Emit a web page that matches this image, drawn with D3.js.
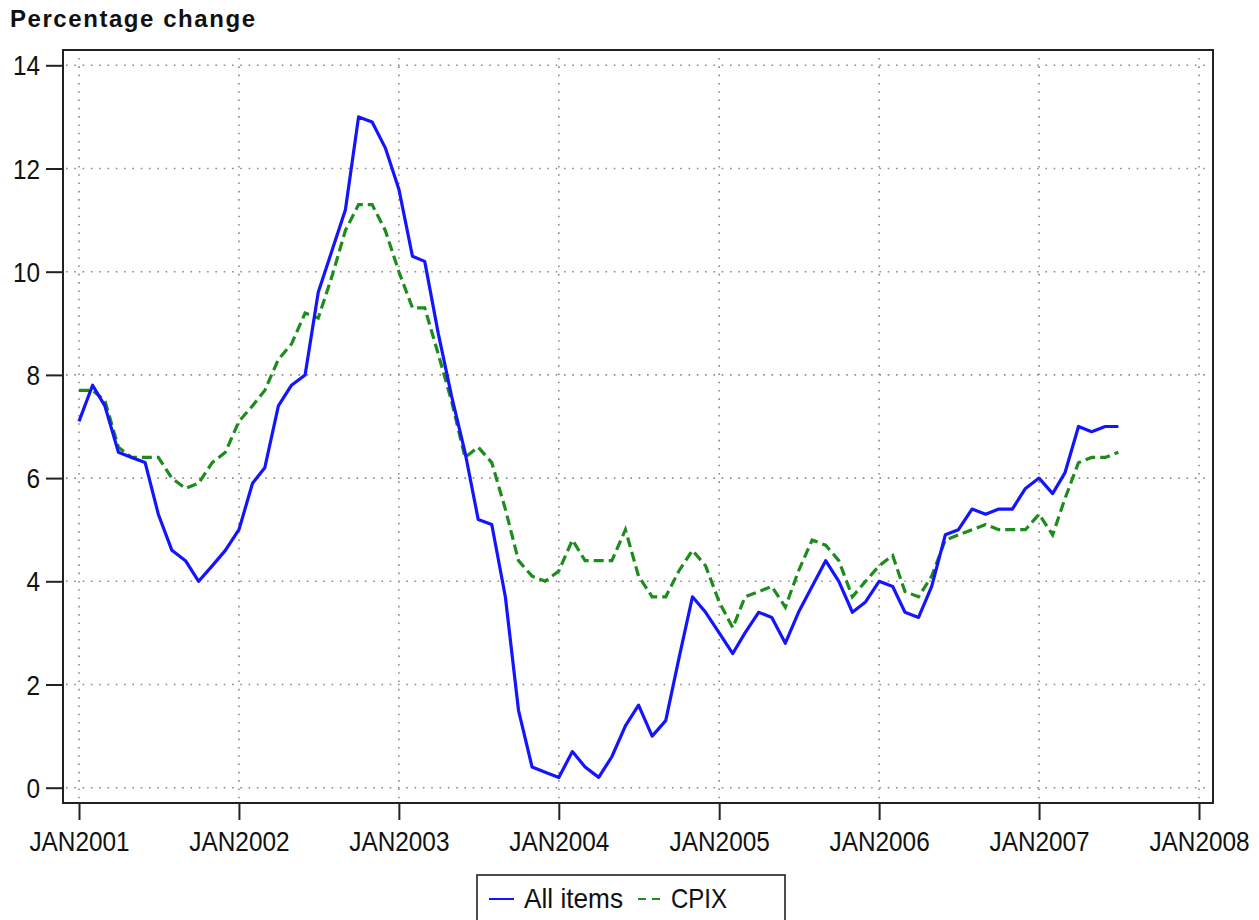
<!DOCTYPE html>
<html>
<head>
<meta charset="utf-8">
<script src="https://cdn.jsdelivr.net/npm/d3@7"></script>
<style>
  body { margin: 0; background: #fff; }
  text { font-family: "Liberation Sans", Arial, sans-serif; fill: #111; }
</style>
</head>
<body>
<svg id="chart" width="1259" height="920"></svg>
<script>
// monthly series, Jan 2001 .. Jul 2007
var firstMonth = new Date(2001, 0, 1);
var allItems = [
  7.1, 7.8, 7.4, 6.5, 6.4, 6.3, 5.3, 4.6, 4.4, 4.0, 4.3, 4.6,
  5.0, 5.9, 6.2, 7.4, 7.8, 8.0, 9.6, 10.4, 11.2, 13.0, 12.9, 12.4,
  11.6, 10.3, 10.2, 8.8, 7.6, 6.5, 5.2, 5.1, 3.7, 1.5, 0.4, 0.3,
  0.2, 0.7, 0.4, 0.2, 0.6, 1.2, 1.6, 1.0, 1.3, 2.5, 3.7, 3.4,
  3.0, 2.6, 3.0, 3.4, 3.3, 2.8, 3.4, 3.9, 4.4, 4.0, 3.4, 3.6,
  4.0, 3.9, 3.4, 3.3, 3.9, 4.9, 5.0, 5.4, 5.3, 5.4, 5.4, 5.8,
  6.0, 5.7, 6.1, 7.0, 6.9, 7.0, 7.0
];
var cpix = [
  7.7, 7.7, 7.5, 6.6, 6.4, 6.4, 6.4, 6.0, 5.8, 5.9, 6.3, 6.5,
  7.1, 7.4, 7.7, 8.3, 8.6, 9.2, 9.1, 9.9, 10.8, 11.3, 11.3, 10.8,
  10.0, 9.3, 9.3, 8.4, 7.5, 6.4, 6.6, 6.3, 5.4, 4.4, 4.1, 4.0,
  4.2, 4.8, 4.4, 4.4, 4.4, 5.0, 4.1, 3.7, 3.7, 4.2, 4.6, 4.3,
  3.6, 3.1, 3.7, 3.8, 3.9, 3.5, 4.2, 4.8, 4.7, 4.4, 3.7, 4.0,
  4.3, 4.5, 3.8, 3.7, 4.1, 4.8, 4.9, 5.0, 5.1, 5.0, 5.0, 5.0,
  5.3, 4.9, 5.6, 6.3, 6.4, 6.4, 6.5
];
var yTicks = [0, 2, 4, 6, 8, 10, 12, 14];
var xTickYears = [2001, 2002, 2003, 2004, 2005, 2006, 2007, 2008];
var seriesNames = ["All items", "CPIX"];

var svg = d3.select("#chart"),
    frame = {left: 63, right: 1213, top: 50, bottom: 803},
    blue = "#1414ff",
    green = "#1c8c1c";

var x = d3.scaleTime()
    .domain([new Date(2001, 0, 1), new Date(2008, 0, 1)])
    .range([79, 1199]);
var y = d3.scaleLinear()
    .domain([0, 14])
    .range([787.7, 65.3]);

var xTickDates = xTickYears.map(function(yr) { return new Date(yr, 0, 1); });
var fmt = d3.timeFormat("%b%Y");

// title
svg.append("text")
    .attr("x", 10).attr("y", 27)
    .attr("font-size", 24).attr("font-weight", "bold")
    .attr("textLength", 245).attr("lengthAdjust", "spacing")
    .text("Percentage change");

// grid
var grid = svg.append("g")
    .attr("stroke", "#8a8a8a")
    .attr("stroke-width", 1.6)
    .attr("stroke-dasharray", "1.6,6.7");
grid.selectAll("line.h").data(yTicks).enter().append("line")
    .attr("x1", frame.left + 3).attr("x2", frame.right - 2)
    .attr("y1", function(d) { return y(d); })
    .attr("y2", function(d) { return y(d); });
grid.selectAll("line.v").data(xTickDates).enter().append("line")
    .attr("y1", frame.top + 8).attr("y2", frame.bottom - 2)
    .attr("x1", function(d) { return x(d); })
    .attr("x2", function(d) { return x(d); });

// lines
var line = function(vals) {
  return d3.line()
    .x(function(d, i) { return x(d3.timeMonth.offset(firstMonth, i)); })
    .y(function(d) { return y(d); })(vals);
};
svg.append("path")
    .attr("d", line(cpix))
    .attr("fill", "none").attr("stroke", green)
    .attr("stroke-width", 3.2).attr("stroke-dasharray", "10,5");
svg.append("path")
    .attr("d", line(allItems))
    .attr("fill", "none").attr("stroke", blue)
    .attr("stroke-width", 3.2).attr("stroke-linejoin", "round");

// frame
svg.append("rect")
    .attr("x", frame.left).attr("y", frame.top)
    .attr("width", frame.right - frame.left)
    .attr("height", frame.bottom - frame.top)
    .attr("fill", "none").attr("stroke", "#222").attr("stroke-width", 2);

// axes
var yAxis = svg.append("g")
    .attr("transform", "translate(" + frame.left + ",0)")
    .call(d3.axisLeft(y).tickValues(yTicks).tickSize(17).tickPadding(6).tickFormat(d3.format("d")));
var xAxis = svg.append("g")
    .attr("transform", "translate(0," + frame.bottom + ")")
    .call(d3.axisBottom(x).tickValues(xTickDates).tickSize(17).tickPadding(10)
      .tickFormat(function(d) { return fmt(d).toUpperCase(); }));

[yAxis, xAxis].forEach(function(ax) {
  ax.select(".domain").remove();
  ax.selectAll(".tick line").attr("stroke", "#222").attr("stroke-width", 2);
  ax.selectAll(".tick text")
    .attr("font-family", null)
    .attr("font-size", 28)
    .style("fill", "#111");
});
yAxis.selectAll(".tick text")
    .attr("x", null).attr("dy", "0.34em")
    .attr("transform", "translate(-23,0) scale(0.87,1)");
xAxis.selectAll(".tick text")
    .attr("dy", null).attr("y", 48)
    .attr("transform", "scale(0.87,1)");

// legend
var legend = svg.append("g");
legend.append("rect")
    .attr("x", 477).attr("y", 875)
    .attr("width", 308).attr("height", 60)
    .attr("fill", "#fff").attr("stroke", "#222").attr("stroke-width", 1.6);
legend.append("line")
    .attr("x1", 489).attr("x2", 514).attr("y1", 899).attr("y2", 899)
    .attr("stroke", blue).attr("stroke-width", 2);
legend.append("text")
    .attr("x", 524).attr("y", 908)
    .attr("font-size", 28)
    .attr("textLength", 99).attr("lengthAdjust", "spacingAndGlyphs")
    .text(seriesNames[0]);
legend.append("line")
    .attr("x1", 638).attr("x2", 662).attr("y1", 899).attr("y2", 899)
    .attr("stroke", green).attr("stroke-width", 2).attr("stroke-dasharray", "8,6");
legend.append("text")
    .attr("x", 671).attr("y", 908)
    .attr("font-size", 28)
    .attr("textLength", 56).attr("lengthAdjust", "spacingAndGlyphs")
    .text(seriesNames[1]);
</script>
</body>
</html>
